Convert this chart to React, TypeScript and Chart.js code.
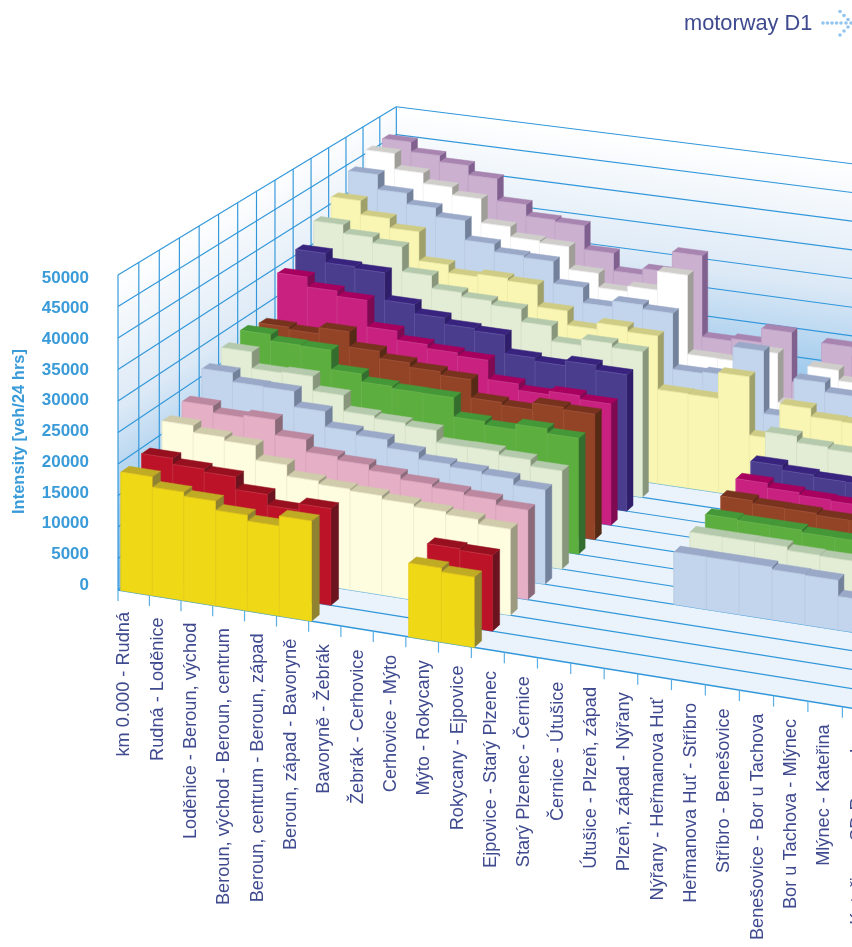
import { useEffect, useRef } from "react";
import { Chart, registerables } from "chart.js";

Chart.register(...registerables);

const WIDTH = 852;
const HEIGHT = 947;

const categories = [
  "km 0.000 - Rudná",
  "Rudná - Loděnice",
  "Loděnice - Beroun, východ",
  "Beroun, východ - Beroun, centrum",
  "Beroun, centrum - Beroun, západ",
  "Beroun, západ - Bavoryně",
  "Bavoryně - Žebrák",
  "Žebrák - Cerhovice",
  "Cerhovice - Mýto",
  "Mýto - Rokycany",
  "Rokycany - Ejpovice",
  "Ejpovice - Starý Plzenec",
  "Starý Plzenec - Černice",
  "Černice - Útušice",
  "Útušice - Plzeň, západ",
  "Plzeň, západ - Nýřany",
  "Nýřany - Heřmanova Huť",
  "Heřmanova Huť - Stříbro",
  "Stříbro - Benešovice",
  "Benešovice - Bor u Tachova",
  "Bor u Tachova - Mlýnec",
  "Mlýnec - Kateřina",
  "Kateřina - SD Rozvadov",
];

const _ = null;
// Traffic intensity per section, one list per year row, front row first.
const row00 = [18780, 17120, 16460, 15020, 14110, 15670, _, _, _, 11460, 10860];
const row01 = [19440, 18480, 18010, 15970, 14250, 15280, _, _, _, 12090, 11830];
const row02 = [22440, 21310, 20710, 18360, 16560, 16030, 15740, 15180, 14730, 14300, 13540];
const row03 = [23420, 22260, 22630, 20130, 18180, 17600, 16740, 16010, 15500, 15030, 14200];
const row04 = [26610, 25140, 25050, 22510, 19990, 19390, 18080, 16950, 16510, 16100, 15090, _, _, _, _, 8300, 8290, 8290, 7880, 7780, 5270];
const row05 = [27940, 25190, 25350, 22950, 20350, 19890, 19420, 17460, 17490, 16890, 15860, _, _, _, _, 9100, 9090, 9080, 8530, 8410, 7800];
const row06 = [28720, 27650, 27530, 24320, 23000, 22630, 22590, 19420, 18800, 19710, 18930, _, _, _, _, 9600, 9400, 9380, 8980, 8960];
const row07 = [27850, 27460, 28500, 25960, 24750, 24010, 23410, 20370, 19890, 21010, 20630, _, _, _, _, 10250, 9780, 9730, 9420, 9380];
const row08 = [34270, 32590, 31710, 27230, 25700, 25020, 24490, 21260, 20200, 20770, 20120, _, _, _, _, 10780, 10000, 9570, 9400];
const row09 = [36310, 34720, 34390, 29680, 28120, 27020, 26600, 23490, 22910, 23690, 22850, _, _, _, _, 11400, 10620, 10270, 10210];
const row10 = [39220, 37730, 36770, 32530, 30340, 29600, 28890, 26740, 24170, 25230, 24510, _, _, _, _, 13990, 12940, 12600];
const row11 = [41460, 39030, 37400, 32380, 31000, 31470, 31000, 27240, 24810, 25910, 25080, 16000, 15920, 20340, 10450, 16440, 15040, 14930];
const row12 = [44120, 41510, 39610, 38070, 34680, 33330, 33040, 29230, 26580, 27630, 26900, 17300, 17560, 22570, 11920, 18620, 17020];
const row13 = [45960, 43170, 41340, 39950, 35750, 33970, 33610, 29650, 27200, 28130, 31420, 17750, 17730, 20050, 11600, 18570, 16810];
const row14 = [46150, 44410, 43290, 41590, 37700, 35670, 35330, 31150, 28080, 29190, 32790, 18640, 19080, 21530, 12980, 20460, 18760];

const rows = [row00, row01, row02, row03, row04, row05, row06, row07, row08, row09, row10, row11, row12, row13, row14];

const frontColors = ["#EFD917", "#BC1328", "#FFFDE0", "#E5AFC6", "#C3D5ED", "#E3ECD5", "#5CAF3F", "#934426", "#C82180", "#4A3D8E", "#E3ECD5", "#F8F6B2", "#C3D5ED", "#FFFFFF", "#CBB0D0"];
const topColors = ["#BFAB24", "#96101F", "#CFCBAB", "#BB88A0", "#9BA9C8", "#B5C9AD", "#459838", "#78331E", "#A8005F", "#38247F", "#B5C9AD", "#CFCC85", "#9BA9C8", "#D0CECA", "#A884B0"];
const sideColors = ["#8F8230", "#6B1420", "#9C9A80", "#8A6A78", "#73819B", "#88967B", "#336E2F", "#552B16", "#7F0A52", "#2F1F6A", "#88967B", "#A0A06A", "#73819B", "#A09E99", "#80608F"];
const seamColors = ["#E6C81E", "#C63A4A", "#EDEBCC", "#D9A2BA", "#B6C8E0", "#D5DFC6", "#6FB856", "#A55A3C", "#D0458F", "#6559A3", "#D5DFC6", "#ECEAA6", "#B6C8E0", "#EFEFEF", "#BFA4C4"];

const BLUE = "#3A9BD9";
const GRID = "#3197DA";
const INK = "#3F4A8F";
const ROW_COUNT = rows.length;
const FLOOR_SPAN = 32;

// Perspective camera of the box: section index, row index and value fraction to page pixels.
const camera = { x0: 118, y0: 590, ux: 31.1, vx: 22.04, uy: 3.77, vy: -10.28, uw: -0.002169, vw: 0.00879, rise: 315 };
const project = (u: number, v: number, f: number): [number, number] => {
  const d = 1 + camera.uw * u + camera.vw * v;
  return [
    (camera.x0 + camera.ux * u + camera.vx * v) / d,
    (camera.y0 + camera.uy * u + camera.vy * v - camera.rise * f) / d,
  ];
};

const fillPoly = (ctx: CanvasRenderingContext2D, pts: [number, number][], color: string | CanvasGradient) => {
  ctx.beginPath();
  pts.forEach((p, i) => (i ? ctx.lineTo(p[0], p[1]) : ctx.moveTo(p[0], p[1])));
  ctx.closePath();
  ctx.fillStyle = color;
  ctx.fill();
  if (typeof color === "string") {
    ctx.strokeStyle = color;
    ctx.lineWidth = 0.5;
    ctx.stroke();
  }
};

const segment = (ctx: CanvasRenderingContext2D, a: [number, number], b: [number, number], color: string, width = 1) => {
  ctx.beginPath();
  ctx.moveTo(a[0], a[1]);
  ctx.lineTo(b[0], b[1]);
  ctx.strokeStyle = color;
  ctx.lineWidth = width;
  ctx.stroke();
};

const wallGradient = (ctx: CanvasRenderingContext2D, x0: number, y0: number, x1: number, y1: number) => {
  const g = ctx.createLinearGradient(x0, y0, x1, y1);
  g.addColorStop(0, "#FFFFFF");
  g.addColorStop(0.45, "#DCE9F6");
  g.addColorStop(0.8, "#9CC8EC");
  g.addColorStop(1, "#7DB8E6");
  return g;
};

const box3d = {
  id: "box3d",
  beforeDatasetsDraw(chart: Chart) {
    const { ctx, scales } = chart;
    const yScale = scales.y;
    const frac = (value: number) => (yScale.bottom - yScale.getPixelForValue(value)) / (yScale.bottom - yScale.top);
    const steps = (yScale.ticks as { value: number }[]).map((t) => t.value);
    ctx.save();

    // Floor and the two walls.
    fillPoly(ctx, [project(0, 0, 0), project(FLOOR_SPAN, 0, 0), project(FLOOR_SPAN, ROW_COUNT, 0), project(0, ROW_COUNT, 0)], "#EAF3FB");
    fillPoly(
      ctx,
      [project(0, 0, 0), project(0, ROW_COUNT, 0), project(0, ROW_COUNT, 1), project(0, 0, 1)],
      wallGradient(ctx, 118, 275, 255, 485),
    );
    fillPoly(
      ctx,
      [project(0, ROW_COUNT, 0), project(FLOOR_SPAN, ROW_COUNT, 0), project(FLOOR_SPAN, ROW_COUNT, 1), project(0, ROW_COUNT, 1)],
      wallGradient(ctx, 420, 110, 386, 385),
    );

    // Grid lines.
    steps.forEach((s) => {
      const f = frac(s);
      segment(ctx, project(0, 0, f), project(0, ROW_COUNT, f), GRID, 1.15);
      segment(ctx, project(0, ROW_COUNT, f), project(FLOOR_SPAN, ROW_COUNT, f), GRID, 1.15);
    });
    for (let v = 0; v <= ROW_COUNT; v++) {
      segment(ctx, project(0, v, 0), project(0, v, 1), GRID, 1.15);
      segment(ctx, project(0, v, 0), project(FLOOR_SPAN, v, 0), GRID, v === 0 ? 1.5 : 1.2);
    }
    categories.forEach((_label, i) => {
      const [x, y] = project(i, 0, 0);
      segment(ctx, [x, y], [x, y + 11], "#5AAEE4", 1.2);
    });

    // Bars, far row first and left to right inside a row.
    const inset = 0.09;
    const depth = 0.4;
    for (let r = chart.data.datasets.length - 1; r >= 0; r--) {
      (chart.data.datasets[r].data as (number | null)[]).forEach((value, u) => {
        if (value == null) return;
        const f = frac(value);
        const uL = u + inset;
        const uR = u + 1 + inset;
        fillPoly(ctx, [project(uR, r, 0), project(uR, r + depth, 0), project(uR, r + depth, f), project(uR, r, f)], sideColors[r]);
        fillPoly(ctx, [project(uL, r, f), project(uR, r, f), project(uR, r + depth, f), project(uL, r + depth, f)], topColors[r]);
        fillPoly(ctx, [project(uL, r, 0), project(uR, r, 0), project(uR, r, f), project(uL, r, f)], frontColors[r]);
        segment(ctx, project(uL, r, 0), project(uL, r, f), seamColors[r], 0.7);
        segment(ctx, project(uL, r, f), project(uR, r, f), seamColors[r], 0.6);
      });
    }

    // Section names under the front edge.
    ctx.fillStyle = INK;
    ctx.font = '18.2px "Liberation Sans"';
    ctx.textAlign = "right";
    ctx.textBaseline = "alphabetic";
    categories.forEach((label, i) => {
      ctx.save();
      ctx.translate(129.3 + 33.33 * i, 612 + 5.35 * i);
      ctx.rotate(-Math.PI / 2);
      ctx.fillText(label, 0, 0);
      ctx.restore();
    });

    // Heading with its dotted arrow.
    ctx.font = '21.8px "Liberation Sans"';
    ctx.textAlign = "left";
    ctx.fillText("motorway D1", 684, 30);
    ctx.fillStyle = "#93C5EE";
    const dots: [number, number][] = [
      [823, 23], [827.5, 23], [832, 23], [836.5, 23], [841, 23], [846, 23], [851, 23],
      [840, 11.5], [844, 15.5], [848, 19.5], [848, 27], [844, 31], [840, 35],
    ];
    dots.forEach(([x, y]) => {
      ctx.beginPath();
      ctx.arc(x, y, 1.8, 0, Math.PI * 2);
      ctx.fill();
    });
    ctx.restore();
  },
};

export default function App() {
  const ref = useRef<HTMLCanvasElement>(null);
  useEffect(() => {
    if (!ref.current) return;
    const chart = new Chart(ref.current, {
      type: "bar",
      data: {
        labels: categories,
        datasets: rows.map((data, i) => ({
          label: `row ${i + 1}`,
          data,
          backgroundColor: "transparent",
          borderWidth: 0,
        })),
      },
      plugins: [box3d],
      options: {
        responsive: false,
        animation: false,
        events: [],
        layout: { padding: { top: 278, bottom: 362, left: 10, right: 0 } },
        plugins: { legend: { display: false }, tooltip: { enabled: false }, title: { display: false } },
        scales: {
          x: { display: false, type: "category" },
          y: {
            type: "linear",
            min: 0,
            max: 50000,
            afterFit: (scale: { width: number }) => {
              scale.width = 80;
            },
            border: { display: false },
            grid: { display: false, drawTicks: false },
            ticks: {
              stepSize: 5000,
              padding: 1,
              color: BLUE,
              callback: (value: number | string) => String(value),
              font: { family: '"Liberation Sans"', size: 17, weight: "bold" },
            },
            title: {
              display: true,
              text: "Intensity [veh/24 hrs]",
              color: BLUE,
              padding: { top: 0, bottom: 0 },
              font: { family: '"Liberation Sans"', size: 16.5, weight: "bold" },
            },
          },
        },
      },
    });
    return () => chart.destroy();
  }, []);
  return (
    <div style={{ position: "absolute", left: 0, top: 0, width: WIDTH, height: HEIGHT, overflow: "hidden", background: "#fff" }}>
      <canvas ref={ref} width={WIDTH} height={HEIGHT} style={{ display: "block" }} />
    </div>
  );
}
